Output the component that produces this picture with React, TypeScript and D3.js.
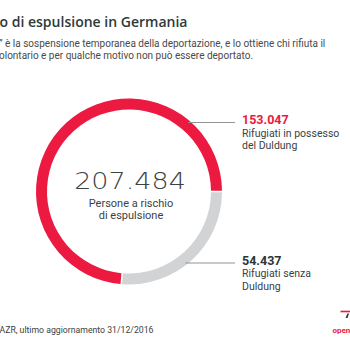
import React from "react";
import * as d3 from "d3";

const titleText = "o di espulsione in Germania";
const subtitleLines = [
  "” è la sospensione temporanea della deportazione, e lo ottiene chi rifiuta il",
  "olontario e per qualche motivo non può essere deportato.",
];
const sourceText = "AZR, ultimo aggiornamento 31/12/2016";
const totalValue = "207.484";
const totalLabel = ["Persone a rischio", "di espulsione"];

// order: clockwise starting from 3 o'clock
const segmentKeys = ["senza", "possesso"];
const segmentValues = [54437, 153047];
const segmentValueLabels = ["54.437", "153.047"];
const segmentLabelLines = [
  ["Rifugiati senza", "Duldung"],
  ["Rifugiati in possesso", "del Duldung"],
];
const segmentColors = ["#d1d3d4", "#ec1940"];
const valueColors = ["#2b3535", "#ec1940"];

export default function App() {
  const cx = 129;
  const cy = 191.5;
  const outerR = 93;
  const innerR = 82;

  const pie = d3
    .pie<number>()
    .sort(null)
    .startAngle(Math.PI / 2)
    .endAngle(Math.PI / 2 + 2 * Math.PI)
    .padAngle(0.012);
  const arcs = pie(segmentValues);
  const arcGen = d3.arc<d3.PieArcDatum<number>>().innerRadius(innerR).outerRadius(outerR);

  // leader line vertical positions (layout)
  const leaderY = [263, 122.5];
  const lineEndX = 235;
  const labelX = 242;

  const font = "Roboto, 'Noto Sans', sans-serif";

  return (
    <svg
      width={350}
      height={350}
      style={{ position: "absolute", left: 0, top: 0, display: "block", background: "#fff" }}
    >
      <text
        x={-0.5}
        y={26.5}
        fontFamily="'Open Sans', sans-serif"
        fontWeight={600}
        fontSize={13.5}
        fill="#2c3a3a"
        textLength={188}
        lengthAdjust="spacingAndGlyphs"
      >
        {titleText}
      </text>
      {subtitleLines.map((t, i) => (
        <text key={i} x={-1} y={46.5 + i * 12.7} fontFamily={font} fontSize={10} fill="#4a4a4a">
          {t}
        </text>
      ))}

      <g transform={`translate(${cx},${cy})`}>
        {arcs.map((a, i) => (
          <path key={segmentKeys[i]} d={arcGen(a) || ""} fill={segmentColors[i]} />
        ))}
      </g>

      {arcs.map((a, i) => {
        const y = leaderY[i];
        const dy = y - cy;
        const x0 = cx + Math.sqrt(Math.max(0, outerR * outerR - dy * dy)) - 3;
        return (
          <g key={"lab" + i}>
            <line x1={x0} x2={lineEndX} y1={y} y2={y} stroke="#8f9494" strokeWidth={1} />
            <text x={labelX} y={y + 1.5} fontFamily={font} fontWeight={700} fontSize={12.5} fill={valueColors[i]}>
              {segmentValueLabels[i]}
            </text>
            {segmentLabelLines[i].map((t, j) => (
              <text key={j} x={labelX} y={y + 14 + j * 12.8} fontFamily={font} fontSize={10.5} fill="#3a3f3f">
                {t}
              </text>
            ))}
          </g>
        );
      })}

      <g transform="translate(130,189) scale(1.2,1)">
        <text
          x={0}
          y={0}
          textAnchor="middle"
          fontFamily="'DejaVu Sans', sans-serif"
          fontWeight={200}
          fontSize={22.5}
          fill="#3a4242"
        >
          {totalValue}
        </text>
      </g>
      {totalLabel.map((t, i) => (
        <text key={i} x={131} y={206.5 + i * 12.7} textAnchor="middle" fontFamily={font} fontSize={11} fill="#3a3f3f">
          {t}
        </text>
      ))}

      <text x={-0.5} y={332.5} fontFamily={font} fontSize={9.6} fill="#3a3f3f" textLength={154} lengthAdjust="spacingAndGlyphs">
        {sourceText}
      </text>

      <g>
        <line x1={340.5} x2={351} y1={311.5} y2={311.5} stroke="#ec1940" strokeWidth={1.6} />
        <path d="M345.5,318 L347.5,313.5 L349,313.5 L347.5,318 Z" fill="#2b3535" />
        <text x={332.5} y={332.5} fontFamily={font} fontWeight={700} fontSize={8} fill="#ec1940">
          open
        </text>
      </g>
    </svg>
  );
}
